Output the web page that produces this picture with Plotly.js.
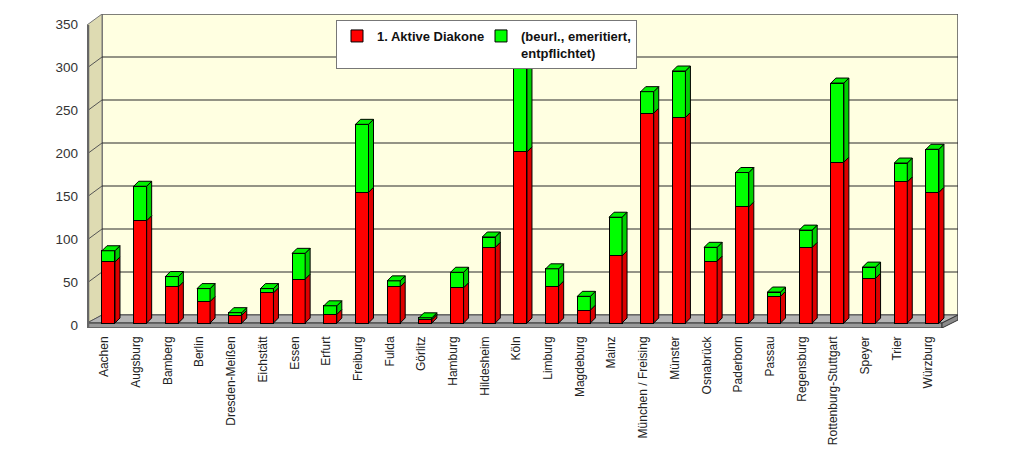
<!DOCTYPE html>
<html>
<head>
<meta charset="utf-8">
<script src="https://cdn.plot.ly/plotly-3.0.1.min.js"></script>
<style>
  html, body { margin: 0; padding: 0; background: #fff; }
  #chart { width: 1030px; height: 451px; }
</style>
</head>
<body>
<div id="chart"></div>
<script>
// Bistuemer
var bistuemer = ['Aachen', 'Augsburg', 'Bamberg', 'Berlin', 'Dresden-Meißen', 'Eichstätt', 'Essen',
  'Erfurt', 'Freiburg', 'Fulda', 'Görlitz', 'Hamburg', 'Hildesheim', 'Köln', 'Limburg', 'Magdeburg',
  'Mainz', 'München / Freising', 'Münster', 'Osnabrück', 'Paderborn', 'Passau', 'Regensburg',
  'Rottenburg-Stuttgart', 'Speyer', 'Trier', 'Würzburg'];

var aktive = [71, 119, 42, 25, 9, 35, 51, 10, 152, 42, 4, 41, 88, 199, 43, 15, 78, 244, 239, 72, 135, 31, 88, 187, 52, 164, 152];
var sonstige = [13, 40, 12, 15, 3, 5, 30, 10, 79, 7, 2, 18, 12, 121, 20, 16, 45, 25, 54, 16, 40, 5, 20, 92, 13, 22, 50];

var yTicks = [0, 50, 100, 150, 200, 250, 300, 350];

// plot frame
var W = 1030, H = 451;
var mL = 87, mR = 72, mT = 14, mB = 123;
var plotW = W - mL - mR, plotH = H - mT - mB;
var xRange = [-0.678, 26.806];
var yPx = 0.86;                       // pixel per Diakon
var yRange = [-5 / yPx, -5 / yPx + plotH / yPx];
var xPx = plotW / (xRange[1] - xRange[0]);

// pixel -> data helpers for the 3D frame
function X(px) { return xRange[0] + (px - mL) / xPx; }
function Y(py) { return yRange[0] + (H - mB - py) / yPx; }
function dX(p) { return p / xPx; }
function dY(p) { return p / yPx; }

var barW = 0.41;
var depthX = dX(5), depthY = dY(5);      // bar depth
var wallDX = 15;
var backLeft = mL + wallDX, backRight = W - mR;
var floorFront = 323, floorBack = 315, floorBottom = 328;
var floorFrontRight = backRight - 16;

function poly(pts) {
  return 'M' + pts.map(function (p) { return p[0] + ',' + p[1]; }).join(' L') + ' Z';
}

var shapes = [];

// back wall
shapes.push({type: 'rect', xref: 'x', yref: 'y', layer: 'below',
  x0: X(backLeft), x1: X(backRight), y0: Y(floorBack), y1: Y(floorBack) + 350,
  fillcolor: '#ffffe1', line: {color: '#555', width: 1.5}});
// left wall
shapes.push({type: 'path', xref: 'x', yref: 'y', layer: 'below',
  path: poly([[X(mL), Y(floorFront + 3) + 350], [X(backLeft), Y(floorBack) + 350],
              [X(backLeft), Y(floorBack)], [X(mL), Y(floorFront)]]),
  fillcolor: '#dedbb2', line: {color: '#777', width: 1}});

// grid lines on back and left wall
yTicks.slice(1, -1).forEach(function (v) {
  shapes.push({type: 'line', xref: 'x', yref: 'y', layer: 'below',
    x0: X(backLeft), x1: X(backRight), y0: Y(floorBack) + v, y1: Y(floorBack) + v,
    line: {color: '#2a2a2a', width: 1.2}});
  shapes.push({type: 'line', xref: 'x', yref: 'y', layer: 'below',
    x0: X(mL), x1: X(backLeft), y0: Y(floorFront + 3) + v, y1: Y(floorBack) + v,
    line: {color: '#555', width: 1}});
});

// floor
shapes.push({type: 'path', xref: 'x', yref: 'y', layer: 'below',
  path: poly([[X(mL), Y(floorFront)], [X(backLeft), Y(floorBack)],
              [X(backRight), Y(floorBack)], [X(floorFrontRight), Y(floorFront)]]),
  fillcolor: '#b4b4b4', line: {color: '#555', width: 1}});
shapes.push({type: 'path', xref: 'x', yref: 'y', layer: 'below',
  path: poly([[X(mL), Y(floorFront)], [X(floorFrontRight), Y(floorFront)],
              [X(floorFrontRight), Y(floorBottom)], [X(mL), Y(floorBottom)]]),
  fillcolor: '#9a9a9a', line: {color: '#333', width: 1}});
shapes.push({type: 'path', xref: 'x', yref: 'y', layer: 'below',
  path: poly([[X(floorFrontRight), Y(floorFront)], [X(backRight), Y(floorBack)],
              [X(backRight), Y(floorBack + 5)], [X(floorFrontRight), Y(floorBottom)]]),
  fillcolor: '#8a8a8a', line: {color: '#333', width: 1}});
// front edge of the left wall
shapes.push({type: 'line', xref: 'x', yref: 'y', layer: 'below',
  x0: X(mL + 1), x1: X(mL + 1), y0: Y(floorBottom), y1: Y(floorFront + 3) + 350,
  line: {color: '#666', width: 2.5}});

// 3D side faces and caps of the bars
bistuemer.forEach(function (b, i) {
  var xr = i + barW / 2, xl = i - barW / 2;
  var segs = [[0, aktive[i], '#dd0000'], [aktive[i], aktive[i] + sonstige[i], '#00d000']];
  segs.forEach(function (s) {
    shapes.push({type: 'path', xref: 'x', yref: 'y', layer: 'above',
      path: poly([[xr, s[0]], [xr + depthX, s[0] + depthY], [xr + depthX, s[1] + depthY], [xr, s[1]]]),
      fillcolor: s[2], line: {color: '#000', width: 1}});
  });
  var top = aktive[i] + sonstige[i];
  shapes.push({type: 'path', xref: 'x', yref: 'y', layer: 'above',
    path: poly([[xl, top], [xl + depthX, top + depthY], [xr + depthX, top + depthY], [xr, top]]),
    fillcolor: '#00f000', line: {color: '#000', width: 1}});
});

var idx = bistuemer.map(function (b, i) { return i; });

var traces = [
  {type: 'bar', name: '<b>1. Aktive Diakone</b>', x: idx, y: aktive, width: barW, legendwidth: 99,
   marker: {color: '#ff0000', line: {color: '#000', width: 1}}, hoverinfo: 'y'},
  {type: 'bar', name: '<b>(beurl., emeritiert,<br>entpflichtet)</b>', x: idx, y: sonstige, width: barW,
   legendwidth: 110,
   marker: {color: '#00ff00', line: {color: '#000', width: 1}}, hoverinfo: 'y'}
];

var layout = {
  width: W, height: H,
  margin: {l: mL, r: mR, t: mT, b: mB, pad: 0},
  paper_bgcolor: '#ffffff', plot_bgcolor: 'rgba(0,0,0,0)',
  barmode: 'stack',
  font: {family: 'Liberation Sans, Arial, sans-serif', color: '#222'},
  showlegend: true,
  legend: {orientation: 'h', x: (336 - mL) / plotW, y: (H - mB - 20) / plotH,
    xanchor: 'left', yanchor: 'top', valign: 'top',
    bgcolor: '#ffffff', bordercolor: '#777', borderwidth: 1,
    font: {size: 13, color: '#111'}, traceorder: 'normal'},
  xaxis: {range: xRange, tickmode: 'array', tickvals: idx, ticktext: bistuemer,
    tickangle: -90, showgrid: false, zeroline: false, showline: false, ticks: '',
    ticklabelstandoff: 5, ticklabelshift: -4,
    tickfont: {size: 12, color: '#222'}, fixedrange: true},
  yaxis: {range: yRange, tickmode: 'array', tickvals: yTicks,
    showgrid: false, zeroline: false, showline: false, ticks: '',
    ticklabelstandoff: 8, ticklabelshift: 2,
    tickfont: {size: 13.5, color: '#333'}, fixedrange: true},
  shapes: shapes
};

Plotly.newPlot('chart', traces, layout, {displayModeBar: false, staticPlot: true});
</script>
</body>
</html>
